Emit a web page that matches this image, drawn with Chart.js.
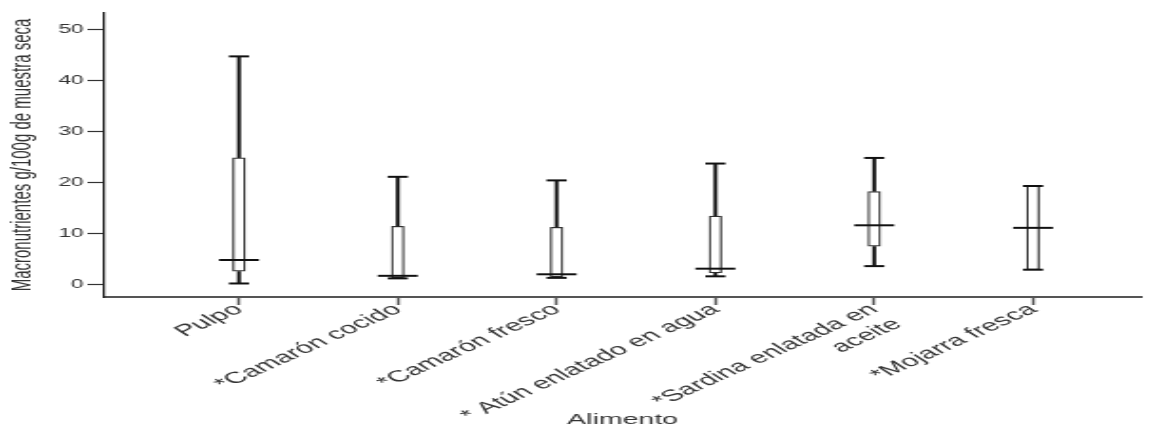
<!DOCTYPE html>
<html>
<head>
<meta charset="utf-8">
<script src="https://cdn.jsdelivr.net/npm/chart.js@4.4.1/dist/chart.umd.min.js"></script>
<style>
  html, body { margin: 0; padding: 0; background: #fff; overflow: hidden; }
  #wrap { width: 607px; height: 431px; transform: scaleX(1.9012); transform-origin: 0 0; }
  canvas { display: block; }
</style>
</head>
<body>
<div id="wrap"><canvas id="c" width="607" height="431"></canvas></div>
<script>
// ---- data ----
const categories = ["Pulpo", "*Camarón cocido", "*Camarón fresco", "* Atún enlatado en agua", ["*Sardina enlatada en", "aceite"], "*Mojarra fresca"];
const maxVals = [44.7, 21.1, 20.4, 23.7, 24.8, 19.3];
const q3Vals  = [24.8, 11.4, 11.2, 13.4, 18.2, 19.3];
const medVals = [4.8, 1.7, 2.0, 3.1, 11.6, 11.1];
const q1Vals  = [2.6, 1.3, 1.5, 2.3, 7.5, 2.9];
const minVals = [0.2, 1.2, 1.3, 1.6, 3.6, 2.9];
const yTicks  = [0, 10, 20, 30, 40, 50];

const FONT = "'Liberation Sans', Arial, sans-serif";
const TXT = '#333333';

const whiskerPlugin = {
  id: 'whiskers',
  afterDatasetsDraw(chart) {
    const { ctx, scales: { x, y } } = chart;
    const seg = (x1, y1, x2, y2) => { ctx.beginPath(); ctx.moveTo(x1, y1); ctx.lineTo(x2, y2); ctx.stroke(); };
    ctx.save();
    ctx.strokeStyle = '#111';
    categories.forEach((c, i) => {
      const px = x.getPixelForValue(i);
      ctx.lineWidth = 2;
      seg(px, y.getPixelForValue(maxVals[i]), px, y.getPixelForValue(q3Vals[i]));
      seg(px, y.getPixelForValue(q1Vals[i]), px, y.getPixelForValue(minVals[i]));
      const capHalf = 5.3, medHalf = 10.5;
      seg(px - capHalf, y.getPixelForValue(maxVals[i]), px + capHalf, y.getPixelForValue(maxVals[i]));
      seg(px - capHalf, y.getPixelForValue(minVals[i]), px + capHalf, y.getPixelForValue(minVals[i]));
      seg(px - medHalf, y.getPixelForValue(medVals[i]), px + medHalf, y.getPixelForValue(medVals[i]));
    });
    ctx.restore();
  }
};

new Chart(document.getElementById('c'), {
  type: 'bar',
  data: {
    datasets: [{
      data: categories.map((c, i) => ({ x: i, y: [q1Vals[i], q3Vals[i]] })),
      backgroundColor: '#ffffff',
      borderColor: '#333333',
      borderWidth: 1.2,
      borderSkipped: false,
      barThickness: 6.5
    }]
  },
  options: {
    responsive: false,
    animation: false,
    devicePixelRatio: 1,
    layout: { padding: { top: 13, right: 7, bottom: 0, left: 0 } },
    plugins: { legend: { display: false }, tooltip: { enabled: false } },
    scales: {
      x: {
        type: 'linear',
        min: -0.846,
        max: 5.678,
        offset: false,
        afterBuildTicks: ax => { ax.ticks = categories.map((c, i) => ({ value: i })); },
        afterFit: s => { s.height = 134; },
        ticks: {
          autoSkip: false, minRotation: 40, maxRotation: 40, padding: -5,
          color: TXT, font: { family: FONT, size: 16 },
          callback: v => categories[v]
        },
        grid: { drawOnChartArea: false, drawTicks: true, tickLength: 8, tickWidth: 1.5, tickColor: '#555', offset: false },
        border: { display: true, color: '#555', width: 2 },
        title: { display: true, text: 'Alimento', color: TXT, font: { family: FONT, size: 15 }, padding: { top: 0, bottom: 2 } }
      },
      y: {
        min: -2.45,
        max: 53.2,
        afterBuildTicks: ax => { ax.ticks = yTicks.map(v => ({ value: v })); },
        afterFit: s => { s.width = 55; },
        ticks: { color: TXT, font: { family: FONT, size: 12 }, padding: 2 },
        grid: { drawOnChartArea: false, drawTicks: true, tickLength: 9, tickWidth: 1.2, tickColor: '#333' },
        border: { display: true, color: '#222', width: 1.2 },
        title: { display: true, text: 'Macronutrientes g/100g de muestra seca', color: TXT, font: { family: FONT, size: 15 }, padding: { top: 3, bottom: 0 } }
      }
    }
  },
  plugins: [whiskerPlugin]
});
</script>
</body>
</html>
